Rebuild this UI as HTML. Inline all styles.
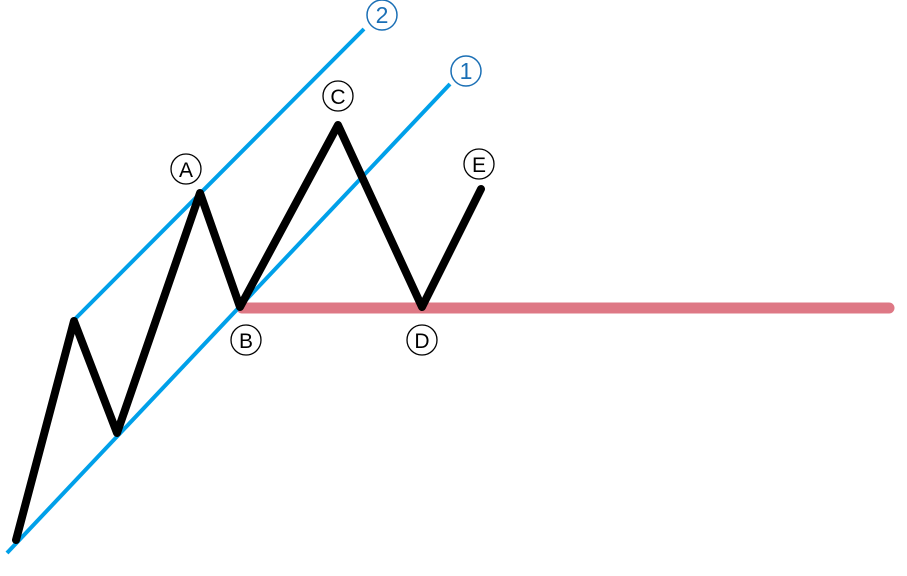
<!DOCTYPE html>
<html><head><meta charset="utf-8"><style>html,body{margin:0;padding:0;background:#fff}svg{display:block}</style></head>
<body>
<svg width="907" height="576" viewBox="0 0 907 576" xmlns="http://www.w3.org/2000/svg">
<line x1="242" y1="308" x2="889" y2="308" stroke="#de7885" stroke-width="11" stroke-linecap="round"/>
<line x1="7" y1="553" x2="450" y2="84" stroke="#00a0e9" stroke-width="4"/>
<line x1="75" y1="319" x2="364" y2="29" stroke="#00a0e9" stroke-width="4"/>
<polyline points="16,540 74,321 117,433 200,193 240,307 338,125 422,307 481,189" fill="none" stroke="#000" stroke-width="8" stroke-linejoin="round" stroke-linecap="round"/>
<g font-family="Liberation Sans, DejaVu Sans, sans-serif" font-size="21" text-anchor="middle">
<g fill="none" stroke="#000" stroke-width="1.3">
<circle cx="186" cy="169" r="15"/>
<circle cx="246" cy="340" r="15"/>
<circle cx="338" cy="96" r="15"/>
<circle cx="422" cy="340" r="15"/>
<circle cx="479" cy="164" r="15"/>
</g>
<g fill="none" stroke="#1a6fb5" stroke-width="1.5">
<circle cx="382" cy="15" r="15"/>
<circle cx="466" cy="71" r="15"/>
</g>
<text x="186" y="177">A</text>
<text x="246" y="348">B</text>
<text x="338" y="104">C</text>
<text x="422" y="348">D</text>
<text x="479" y="172">E</text>
<text x="382" y="23" fill="#1a6fb5" font-size="23">2</text>
<text x="466" y="79" fill="#1a6fb5" font-size="23">1</text>
</g>
</svg>
</body></html>
